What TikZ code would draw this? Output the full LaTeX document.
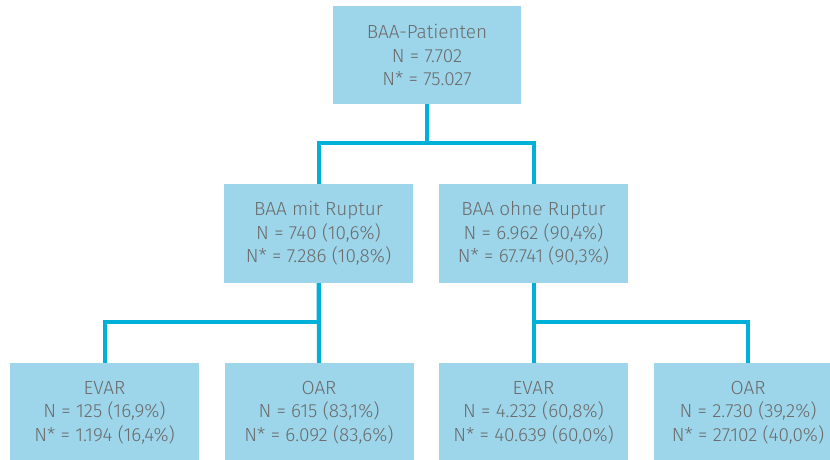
\documentclass[tikz,border=0pt]{standalone}
\usepackage{fontspec}
\setmainfont{Fira Sans Light}
\usetikzlibrary{positioning}
\definecolor{boxfill}{HTML}{9DD6EA}
\definecolor{linkcol}{HTML}{00B0D8}
\definecolor{textgray}{HTML}{6B6B6B}

\begin{document}
\begin{tikzpicture}[x=1pt,y=-1pt]
\tikzstyle{every node}+=[inner sep=0pt]
\tikzstyle{box}=[fill=boxfill, minimum width=189pt, minimum height=99pt, align=center,
  text=textgray, font=\fontsize{19}{23.5}\selectfont]
\tikzstyle{link}=[draw=linkcol, line width=4pt]
\useasboundingbox (0,0) rectangle (830,460);
\node [box, minimum width=188pt, minimum height=98pt] (root) at (427,55) {BAA-Patienten\\N = 7.702\\N* = 75.027};
\node [box] (rupt) at (318.5,233.5) {BAA mit Ruptur\\N = 740 (10,6\%)\\N* = 7.286 (10,8\%)};
\node [box] (norupt) at (533.5,233.5) {BAA ohne Ruptur\\N = 6.962 (90,4\%)\\N* = 67.741 (90,3\%)};
\node [box] (ruptevar) at (104.5,412.5) {EVAR\\N = 125 (16,9\%)\\N* = 1.194 (16,4\%)};
\node [box] (ruptoar) at (319,412.5) {OAR\\N = 615 (83,1\%)\\N* = 6.092 (83,6\%)};
\node [box] (noruptevar) at (533.5,412.5) {EVAR\\N = 4.232 (60,8\%)\\N* = 40.639 (60,0\%)};
\node [box] (noruptoar) at (748,412.5) {OAR\\N = 2.730 (39,2\%)\\N* = 27.102 (40,0\%)};
\draw [link] (root.south) -- ++(0,39) -| (rupt.north);
\draw [link] (root.south) -- ++(0,39) -| (norupt.north);
\draw [link] (rupt.south) -- ++(0,39) -| (ruptevar.north);
\draw [link] (rupt.south) -- (ruptoar.north);
\draw [link] (norupt.south) -- (noruptevar.north);
\draw [link] (norupt.south) -- ++(0,39) -| (noruptoar.north);
\end{tikzpicture}
\end{document}
